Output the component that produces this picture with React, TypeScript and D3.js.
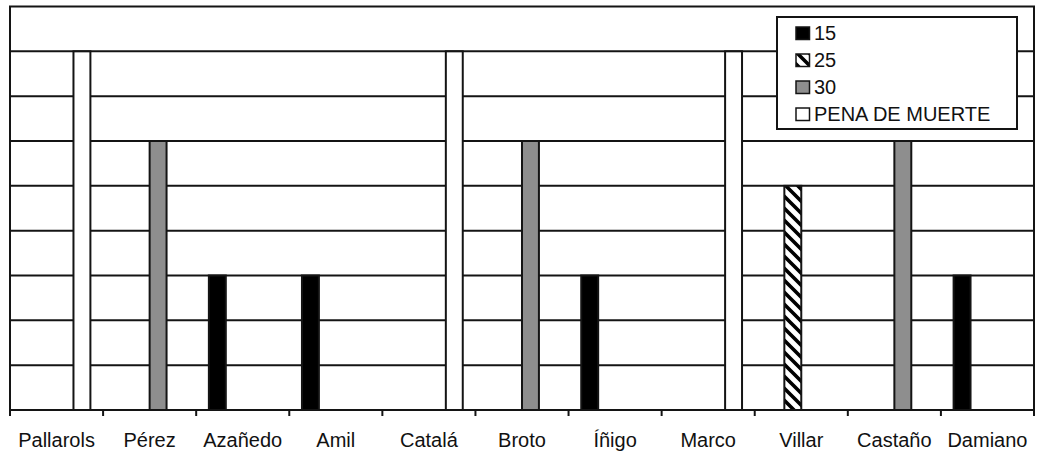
import React from "react";
import * as d3 from "d3";

// Sentences per defendant (years), one array per sentence type
const categories = ["Pallarols", "Pérez", "Azañedo", "Amil", "Catalá", "Broto", "Íñigo", "Marco", "Villar", "Castaño", "Damiano"];
const s15 = [0, 0, 15, 15, 0, 0, 15, 0, 0, 0, 15];
const s25 = [0, 0, 0, 0, 0, 0, 0, 0, 25, 0, 0];
const s30 = [0, 30, 0, 0, 0, 30, 0, 0, 0, 30, 0];
const sPena = [40, 0, 0, 0, 40, 0, 0, 40, 0, 0, 0];
const seriesNames = ["15", "25", "30", "PENA DE MUERTE"];
const yTicks = [5, 10, 15, 20, 25, 30, 35, 40];

const W = 1037;
const H = 451;
const M = { left: 10, right: 1034, top: 6.5, bottom: 410 };
const FONT = "'Liberation Sans', Arial, Helvetica, sans-serif";
const INK = "#141414";

const fills = ["#000000", "url(#hatch)", "#8e8e8e", "#ffffff"];

export default function App() {
  const series = [s15, s25, s30, sPena];
  const x = d3.scaleBand<string>().domain(categories).range([M.left, M.right]).paddingInner(0).paddingOuter(0);
  const xs = d3
    .scaleBand<string>()
    .domain(seriesNames)
    .range([0, x.bandwidth()])
    .paddingInner(0)
    .paddingOuter(0.75);
  const y = d3.scaleLinear().domain([0, 45]).range([M.bottom, M.top]);

  const bars: { key: string; x: number; y: number; w: number; h: number; fill: string }[] = [];
  series.forEach((vals, si) => {
    vals.forEach((v, ci) => {
      if (!v) return;
      const bx = (x(categories[ci]) ?? 0) + (xs(seriesNames[si]) ?? 0);
      bars.push({ key: `${si}-${ci}`, x: bx, y: y(v), w: xs.bandwidth(), h: y(0) - y(v), fill: fills[si] });
    });
  });

  const boundaries = categories.map((c) => x(c) ?? 0).concat([M.right]);

  const legend = { x: 777, y: 17, w: 240, h: 112 };

  return (
    <svg width={W} height={H} style={{ position: "absolute", left: 0, top: 0, background: "#fff" }} fontFamily={FONT}>
      <defs>
        <pattern id="hatch" patternUnits="userSpaceOnUse" width="12" height="12">
          <rect width="12" height="12" fill="#fff" />
          <path d="M-3,-3 L15,15 M-3,9 L3,15 M9,-3 L15,3" stroke="#000" strokeWidth="3.6" />
        </pattern>
      </defs>

      {/* plot frame */}
      <path
        d={`M${M.left},${M.bottom} L${M.left},${M.top} L${M.right},${M.top} L${M.right},${M.bottom}`}
        fill="none"
        stroke={INK}
        strokeWidth={2}
      />

      {/* horizontal gridlines */}
      {yTicks.map((t) => (
        <line key={t} x1={M.left} x2={M.right} y1={y(t)} y2={y(t)} stroke={INK} strokeWidth={2} />
      ))}

      {/* bars */}
      {bars.map((b) => (
        <rect key={b.key} x={b.x} y={b.y} width={b.w} height={b.h} fill={b.fill} stroke={INK} strokeWidth={2} />
      ))}

      {/* category axis */}
      <line x1={M.left} x2={M.right} y1={M.bottom} y2={M.bottom} stroke={INK} strokeWidth={2} />
      {boundaries.map((bx, i) => (
        <line key={i} x1={bx} x2={bx} y1={M.bottom} y2={M.bottom + 6} stroke={INK} strokeWidth={2} />
      ))}
      {categories.map((c) => (
        <text key={c} x={(x(c) ?? 0) + x.bandwidth() / 2} y={447} textAnchor="middle" fontSize={20} fill="#111">
          {c}
        </text>
      ))}

      {/* legend */}
      <rect x={legend.x} y={legend.y} width={legend.w} height={legend.h} fill="#fff" stroke={INK} strokeWidth={2} />
      {seriesNames.map((n, i) => {
        const base = 39.5 + i * 27;
        return (
          <g key={n}>
            <rect x={796} y={base - 12.5} width={13.5} height={12.5} fill={fills[i]} stroke={INK} strokeWidth={1.5} />
            <text x={814} y={base} fontSize={20} fill="#111">
              {n}
            </text>
          </g>
        );
      })}
    </svg>
  );
}
